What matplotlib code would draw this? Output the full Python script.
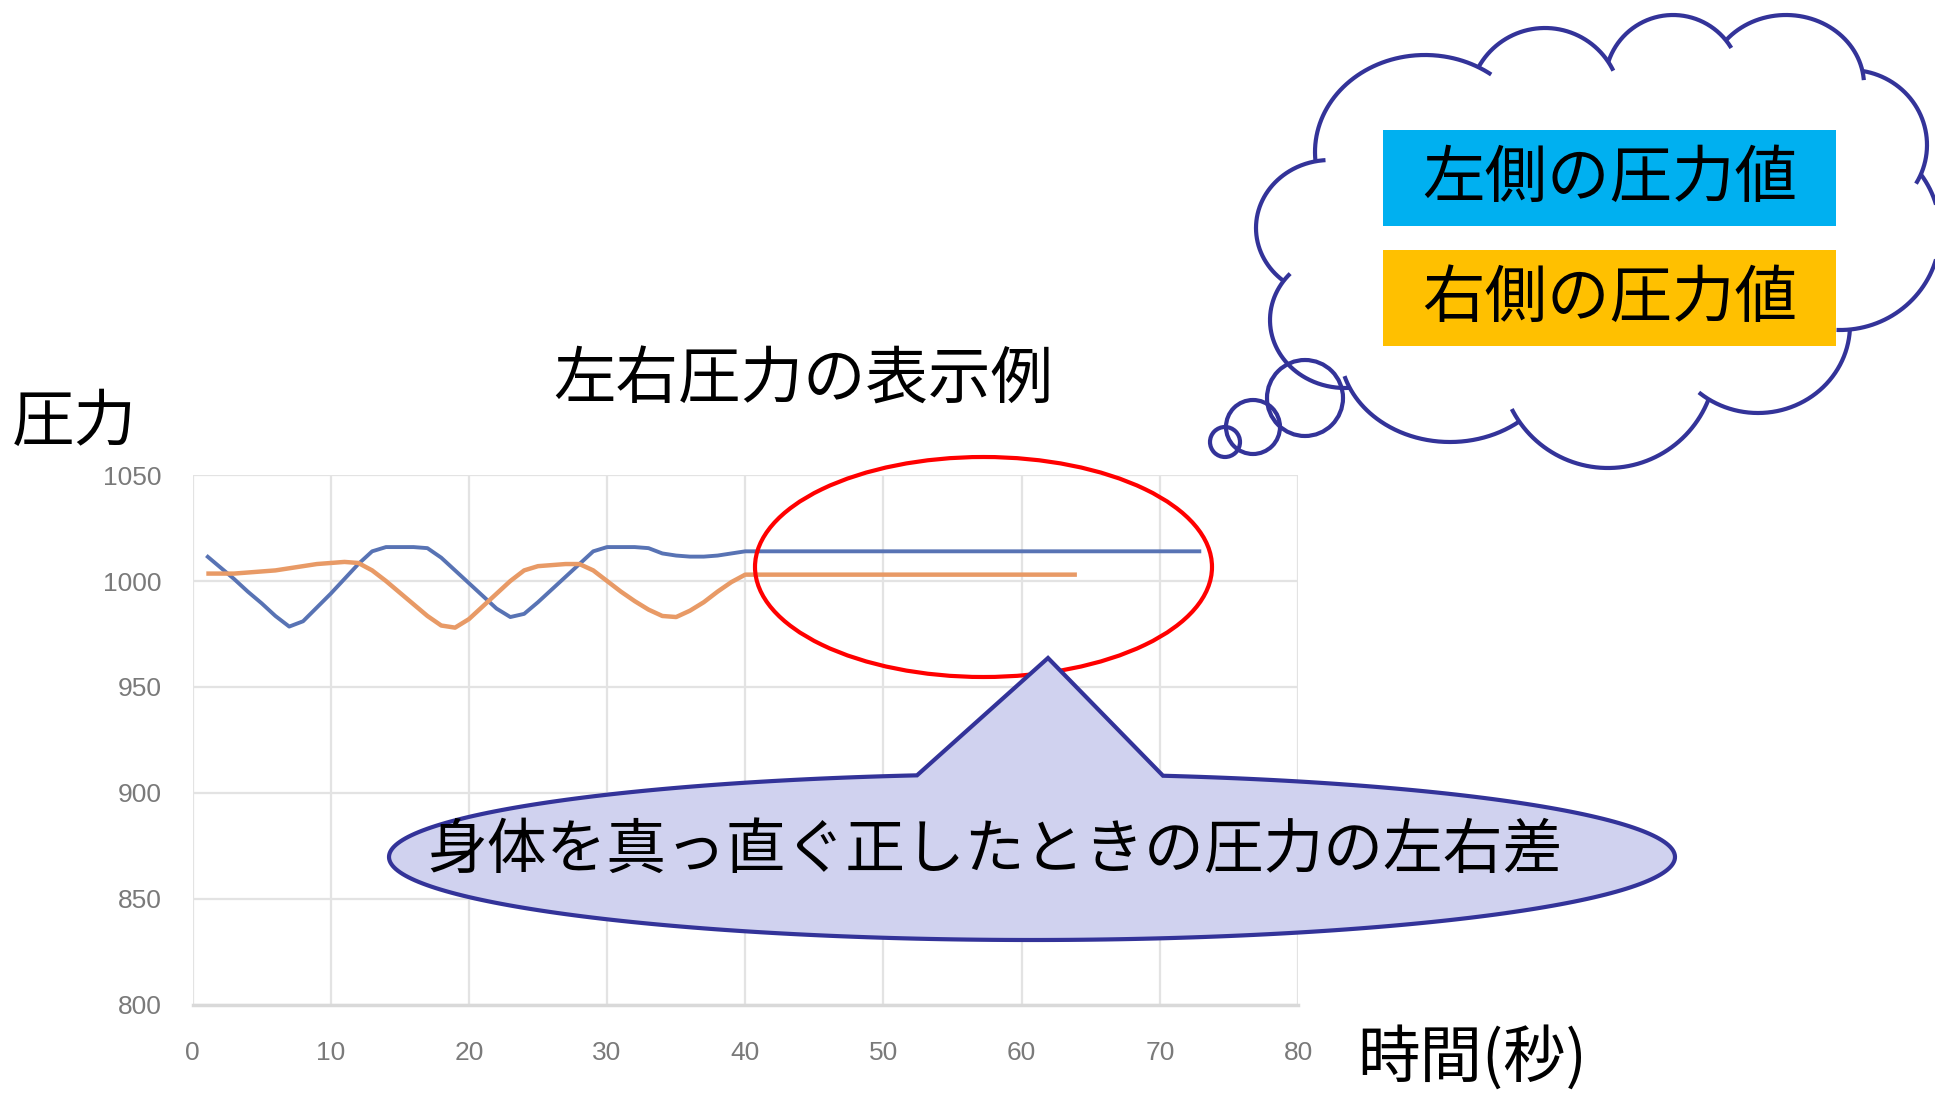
import numpy as np
import matplotlib
matplotlib.use("Agg")
import matplotlib.pyplot as plt
from matplotlib.patches import Ellipse, Rectangle, PathPatch, Polygon
from matplotlib.path import Path

plt.rcParams['font.family'] = ['Noto Sans CJK JP', 'DejaVu Sans']

# pressure readings, one per second
seconds_left = list(range(1, 74))
pressure_left = [1012, 1006.5, 1001, 995, 989.5, 983.5, 978.5, 981, 987.5, 994,
                 1001, 1008, 1014, 1016, 1016, 1016, 1015.5, 1011, 1005, 999,
                 993, 987, 983, 984.5, 990, 996, 1002, 1008, 1014, 1016,
                 1016, 1016, 1015.5, 1013, 1012, 1011.5, 1011.5, 1012, 1013, 1014,
                 1014, 1014, 1014, 1014, 1014, 1014, 1014, 1014, 1014, 1014,
                 1014, 1014, 1014, 1014, 1014, 1014, 1014, 1014, 1014, 1014,
                 1014, 1014, 1014, 1014, 1014, 1014, 1014, 1014, 1014, 1014,
                 1014, 1014, 1014]
seconds_right = list(range(1, 65))
pressure_right = [1003.5, 1003.5, 1003.5, 1004, 1004.5, 1005, 1006, 1007, 1008, 1008.5,
                  1009, 1008.5, 1005, 1000, 994.5, 989, 983.5, 979, 978, 982,
                  988, 994, 1000, 1005, 1007, 1007.5, 1008, 1008, 1005, 1000,
                  995, 990.5, 986.5, 983.5, 983, 986, 990, 995, 999.5, 1003,
                  1003, 1003, 1003, 1003, 1003, 1003, 1003, 1003, 1003, 1003,
                  1003, 1003, 1003, 1003, 1003, 1003, 1003, 1003, 1003, 1003,
                  1003, 1003, 1003, 1003]
x_ticks = [0, 10, 20, 30, 40, 50, 60, 70, 80]
y_ticks = [800, 850, 900, 950, 1000, 1050]

W, H = 1935, 1093
fig = plt.figure(figsize=(W / 100, H / 100), dpi=100)

# --- line chart ---
ax = fig.add_axes([192.5 / W, 88 / H, 1105.5 / W, 530 / H])
ax.plot(seconds_left, pressure_left, color='#5873b4', lw=2.8,
        solid_capstyle='butt', solid_joinstyle='round')
ax.plot(seconds_right, pressure_right, color='#e89a66', lw=3.2,
        solid_capstyle='butt', solid_joinstyle='round')
ax.set_xlim(0, 80)
ax.set_ylim(800, 1050)
ax.set_xticks(x_ticks)
ax.set_yticks(y_ticks)
ax.grid(True, color='#e3e3e3', lw=1.6)
ax.set_axisbelow(True)
for side in ['top', 'right', 'left']:
    ax.spines[side].set_visible(False)
ax.spines['bottom'].set_color('#d9d9d9')
ax.spines['bottom'].set_linewidth(2.5)
ax.tick_params(length=0, labelsize=19, labelcolor='#7a7a7a')
ax.tick_params(axis='x', pad=26)
ax.tick_params(axis='y', pad=22)
for lab in ax.get_xticklabels() + ax.get_yticklabels():
    lab.set_family(['Liberation Sans', 'DejaVu Sans'])

# --- overlay in pixel coordinates ---
ov = fig.add_axes([0, 0, 1, 1], zorder=5)
ov.set_xlim(0, W)
ov.set_ylim(H, 0)
ov.axis('off')
ov.patch.set_alpha(0)

navy = '#333399'

ov.text(803, 381, '左右圧力の表示例', fontsize=45, ha='center', va='center')
ov.text(12, 423, '圧力', fontsize=45, ha='left', va='center')
ov.text(1357, 1058, '時間(秒)', fontsize=45, ha='left', va='center')

# red highlight around the steady part
ov.add_patch(Ellipse((983.5, 567), 457, 220, fill=False, ec='#ff0000', lw=3, zorder=3))

# speech callout: ellipse body with a pointer
cx, cy, a, b = 1032, 857, 643, 83
t_r = np.arccos((1163 - cx) / a)
t_l = np.arccos((917 - cx) / a)
tt = np.linspace(t_r, t_l - 2 * np.pi, 300)
body = np.c_[cx + a * np.cos(tt), cy - b * np.sin(tt)]
verts = np.vstack([body, [[1048, 658]], body[:1]])
ov.add_patch(Polygon(verts, closed=True, fc='#d0d2ef', ec=navy, lw=3, zorder=4,
                     joinstyle='miter'))
ov.text(995, 851, '身体を真っ直ぐ正したときの圧力の左右差', fontsize=43,
        ha='center', va='center', zorder=5)

# thought cloud made of overlapping lobes
lobes = [(1425, 152, 110, 97), (1545, 104, 76, 76), (1673, 83, 68, 68),
         (1786, 85, 78, 70), (1850, 145, 77, 75), (1840, 232, 100, 98),
         (1758, 325, 92, 88), (1608, 360, 108, 108), (1450, 350, 110, 92),
         (1345, 320, 75, 68), (1330, 228, 74, 68)]
core = Path([(l[0], l[1]) for l in lobes] + [(lobes[0][0], lobes[0][1])], closed=True)
ov.add_patch(PathPatch(core, fc='white', ec='none', zorder=2))
for lx, ly, la, lb in lobes:
    ov.add_patch(Ellipse((lx, ly), 2 * la, 2 * lb, fc='white', ec='none', zorder=2))

n = 720
t = np.linspace(0, 2 * np.pi, n, endpoint=False)
stub = 16
for i, (lx, ly, la, lb) in enumerate(lobes):
    px = lx + la * np.cos(t)
    py = ly + lb * np.sin(t)
    outer = ~core.contains_points(np.c_[px, py])
    for j, (mx, my, ma, mb) in enumerate(lobes):
        if j != i:
            outer &= ((px - mx) / ma) ** 2 + ((py - my) / mb) ** 2 > 1
    k = int(np.argmin(outer))
    order = np.roll(np.arange(n), -k)
    o = outer[order]
    s = None
    for p in range(n + 1):
        on = o[p] if p < n else False
        if on and s is None:
            s = p
        elif not on and s is not None:
            seg = order[np.arange(s, p + stub) % n]
            ov.plot(px[seg], py[seg], color=navy, lw=3, zorder=3,
                    solid_capstyle='butt')
            s = None

# small thought bubbles
for bx, by, br in [(1225, 442, 15), (1253, 427, 27), (1305, 398, 38)]:
    ov.add_patch(Ellipse((bx, by), 2 * br, 2 * br, fill=False, ec=navy, lw=3, zorder=3))

# legend boxes inside the cloud
ov.add_patch(Rectangle((1383, 130), 453, 96, fc='#00b0f0', ec='none', zorder=4))
ov.add_patch(Rectangle((1383, 250), 453, 96, fc='#ffc000', ec='none', zorder=4))
ov.text(1610, 179, '左側の圧力値', fontsize=45, ha='center', va='center', zorder=5)
ov.text(1610, 299, '右側の圧力値', fontsize=45, ha='center', va='center', zorder=5)

fig.savefig('out.png', dpi=100)
